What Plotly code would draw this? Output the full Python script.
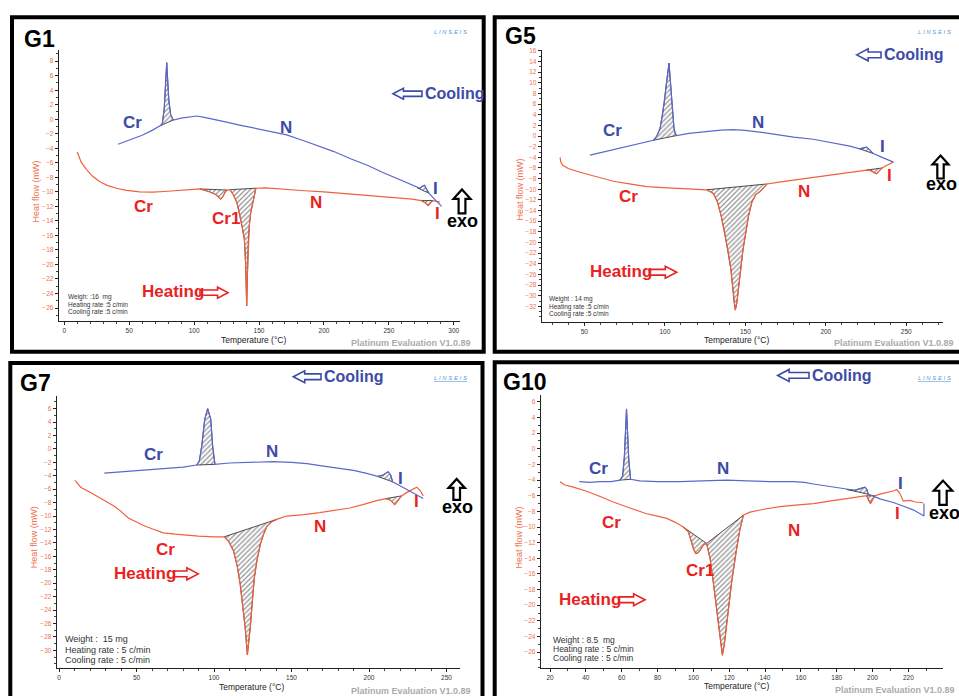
import numpy as np
import plotly.graph_objects as go

W, H = 959, 696

# ---------------- DATA (temperature in °C, heat flow in mW) ----------------
G1_HEAT_T = [10, 13, 17, 22, 27.5, 33, 40, 48, 58, 68, 77, 88, 97, 104.5, 108, 112, 116, 119, 120.5, 122, 124, 125.5,
             127.6, 130.2, 133, 135.4, 137.2, 138.7, 139.7, 140.5, 141.1, 141.8, 142.6, 143.6, 145.7, 147.6,
             155, 170, 185, 200, 215, 230, 245, 258.7, 268, 275, 278, 280.4, 282, 284, 289.5]
G1_HEAT_Q = [-4.5, -5.9, -6.9, -7.9, -8.6, -9.1, -9.5, -9.8, -10.0, -10.05, -9.95, -9.8, -9.7, -9.6, -9.75, -10.0, -10.3, -10.7, -11.0, -10.7, -10.0, -9.75,
             -9.7, -10.4, -11.5, -13.3, -15.0, -16.5, -20.0, -25.7, -21.0, -16.5, -14.5, -12.9, -11.1, -9.5,
             -9.45, -9.7, -9.85, -10.0, -10.2, -10.4, -10.6, -10.8, -11.0, -11.2, -11.5, -11.9, -11.5, -11.2, -11.4]
G1_COOL_T = [41.4, 50, 60, 68, 73.8, 75.5, 77, 78.2, 78.9, 79.6, 80.6, 82, 84, 90, 96, 102, 108, 115, 125, 135, 145, 155, 163,
             171.3, 185, 196, 207.7, 220, 233, 245, 258.6, 268, 272, 274, 276, 277.5, 279, 281, 284, 287, 290.7]
G1_COOL_Q = [-3.44, -2.9, -2.2, -1.5, -0.9, -0.6, 1.5, 5.5, 7.8, 5.5, 2.5, 0.6, -0.1, 0.15, 0.35, 0.45, 0.25, -0.05, -0.4, -0.8, -1.15, -1.55, -1.85,
             -2.15, -3.0, -3.7, -4.45, -5.4, -6.3, -7.3, -8.35, -9.1, -9.45, -9.5, -9.2, -9.1, -9.6, -10.2, -10.8, -11.3, -12.0]
G1_HEAT_PEAKS = [(104.5, 125.5), (127.6, 147.6), (275, 284)]
G1_COOL_PEAKS = [(73.8, 84), (272, 281)]
G1_XTICKS = [0, 50, 100, 150, 200, 250, 300]
G1_YTICKS = list(range(-26, 9, 2))

G5_HEAT_T = [34.9, 35.4, 36.5, 40, 47.3, 57, 68, 78, 88.8, 99, 109.4, 118, 126, 130.2, 132.7, 135, 137.5, 139.5, 141, 143, 143.8,
             144.8, 146.9, 148.5, 150, 152, 154.1, 156.5, 159.3, 163.5, 172, 182, 192.2, 205, 213, 225.4, 228, 230, 231.6, 233, 235, 238, 242]
G5_HEAT_Q = [-4.0, -4.9, -5.5, -6.1, -6.8, -7.6, -8.5, -9.0, -9.5, -9.7, -9.9, -10.0, -10.1, -10.8, -12.4, -15.0, -18.7, -22.0, -25.0, -31.2, -32.7,
             -31.2, -25.0, -21.5, -18.7, -15.0, -12.4, -11.0, -10.4, -9.0, -8.6, -8.2, -7.8, -7.3, -7.0, -6.4, -6.5, -6.9, -7.1, -6.6, -6.0, -5.5, -4.9]
G5_COOL_T = [53.5, 65, 75, 85, 92.9, 95, 97, 98.5, 99.7, 101, 102.6, 103.4, 104.3, 105, 105.7, 106.5, 107.4, 115, 125, 135, 142.6,
             150, 160, 170, 180, 192.2, 205, 215, 221, 223, 225.4, 227, 229.5, 235, 242]
G5_COOL_Q = [-3.6, -2.8, -2.1, -1.4, -0.8, 0.0, 1.4, 3.8, 6.4, 10.0, 13.7, 10.5, 6.4, 3.5, 1.4, 0.5, 0.1, 0.5, 0.85, 1.1, 1.2,
             1.05, 0.7, 0.2, -0.2, -0.6, -1.3, -1.9, -2.4, -2.3, -2.1, -2.5, -3.3, -4.0, -4.9]
G5_HEAT_PEAKS = [(126, 163.5), (225.4, 235)]
G5_COOL_PEAKS = [(92.9, 107.4), (221, 229.5)]
G5_XTICKS = [50, 100, 150, 200, 250]
G5_YTICKS = list(range(-32, 17, 2))

G7_HEAT_T = [10.3, 14, 20.3, 28, 35.4, 40, 44.7, 50, 54.4, 60, 67.3, 75, 82.4, 90, 99.6, 106.5, 109.5, 112.6, 115, 116.9, 118.5,
             120.1, 121.5, 122.5, 123.4, 124.8, 126, 127.8, 129.9, 132, 134.2, 137, 140.4, 146.7, 158, 168.2, 178, 187.6, 196,
             204.8, 211, 213.6, 216.6, 218.5, 221, 225, 230.8, 233, 235]
G7_HEAT_Q = [-4.7, -5.7, -6.5, -7.5, -8.5, -9.3, -10.3, -10.9, -11.4, -11.9, -12.5, -12.7, -12.9, -13.0, -13.1, -13.1, -13.8, -15.2, -17.5, -20.2, -23.5,
             -26.6, -30.7, -28.8, -26.6, -22.5, -19.2, -16.5, -14.2, -12.7, -11.5, -10.9, -10.5, -10.0, -9.8, -9.5, -9.1, -8.8, -8.3,
             -7.7, -7.4, -7.6, -8.3, -7.7, -7.0, -6.4, -5.7, -6.2, -7.0]
G7_COOL_T = [29.2, 40, 50, 60, 70, 80, 88.8, 90.5, 92.1, 94, 95.9, 97.9, 99.1, 100, 100.6, 110, 120, 130, 138.3, 150, 160, 168.4,
             180, 190, 198.5, 205.5, 209, 212.3, 214, 215.2, 220, 225, 230, 235]
G7_COOL_Q = [-3.6, -3.4, -3.2, -3.0, -2.85, -2.7, -2.4, -1.8, 0.46, 4.4, 6.0, 4.4, 0.46, -1.5, -2.3, -2.1, -2.0, -1.9, -1.9, -2.0, -2.2, -2.5,
             -2.9, -3.2, -3.65, -4.1, -3.9, -3.4, -3.9, -4.9, -5.5, -6.1, -6.8, -7.4]
G7_HEAT_PEAKS = [(106.5, 140.4), (211, 221)]
G7_COOL_PEAKS = [(88.8, 100.6), (205.5, 215.2)]
G7_XTICKS = [0, 50, 100, 150, 200, 250]
G7_YTICKS = list(range(-30, 7, 2))

G10_HEAT_T = [25.6, 28, 33, 40, 48, 55.3, 65, 73.9, 80, 85.1, 90, 94.4, 97.2, 99, 100.2, 101.4, 102.6, 103.7, 105.6, 107.4,
              109.3, 111.1, 113.9, 115.2, 116.2, 117.3, 118.6, 121.4, 124.2, 126, 127.9, 131.6, 140, 148.4, 157, 167, 176,
              185.6, 192, 196.7, 197.8, 198.9, 200, 201.4, 204.1, 208, 211.6, 213.4, 215, 217.2, 220.9, 224, 228.3]
G10_HEAT_Q = [-4.2, -4.6, -4.9, -5.4, -6.1, -6.8, -7.6, -8.3, -8.6, -8.9, -9.4, -10.0, -10.6, -11.9, -12.9, -13.4, -13.3, -13.0, -12.3, -12.1,
              -14.0, -17.0, -22.1, -25.0, -26.4, -25.0, -22.6, -17.0, -12.7, -10.3, -8.5, -8.1, -7.7, -7.4, -7.2, -7.0, -6.7,
              -6.4, -6.2, -6.0, -6.6, -7.0, -6.5, -6.0, -5.8, -5.6, -5.4, -5.2, -5.6, -6.7, -6.6, -6.8, -6.9]
G10_COOL_T = [36.3, 42, 48, 54, 59.0, 60.5, 61.5, 62.2, 62.7, 63.2, 64, 65, 70, 80, 92.5, 105, 118.6, 130, 143, 155.8, 162, 167,
              176, 185.6, 190, 193, 195.8, 196.8, 197.6, 204.1, 212, 222.7, 228.7, 228.7]
G10_COOL_Q = [-4.2, -4.3, -4.2, -4.2, -4.0, -3.5, -1.0, 3.0, 5.1, 2.5, -1.5, -3.9, -4.1, -4.2, -4.2, -4.1, -4.0, -4.1, -4.2, -4.2, -4.3, -4.5,
              -4.8, -5.2, -5.3, -5.1, -4.9, -5.2, -5.8, -6.4, -6.9, -7.8, -8.6, -7.0]
G10_HEAT_PEAKS = [(94.4, 107.4), (107.4, 127.9), (196.7, 201.4)]
G10_COOL_PEAKS = [(59.0, 65), (185.6, 197.6)]
G10_XTICKS = [20, 40, 60, 80, 100, 120, 140, 160, 180, 200, 220]
G10_YTICKS = list(range(-26, 7, 2))

INFO_G1 = ["Weigh: :16  mg", "Heating rate :5 c/min", "Cooling rate :5 c/min"]
INFO_G5 = ["Weight : 14 mg", "Heating rate :5 c/min", "Cooling rate :5 c/min"]
INFO_G7 = ["Weight :  15 mg", "Heating rate : 5 c/min", "Cooling rate : 5 c/min"]
INFO_G10 = ["Weight : 8.5  mg", "Heating rate : 5 c/min", "Cooling rate : 5 c/min"]

# ---------------- STYLE / LAYOUT ----------------
HEAT_C = "#f0603c"
COOL_C = "#5a68cc"
LBL_BLUE = "#3d4ba8"
LBL_RED = "#e8231f"
FONT = "Liberation Sans"


def X(px):
    return px / W


def Y(py):
    return 1 - py / H


panels = [
    dict(name="G1", ht=G1_HEAT_T, hq=G1_HEAT_Q, ct=G1_COOL_T, cq=G1_COOL_Q, hp=G1_HEAT_PEAKS, cp=G1_COOL_PEAKS,
         xt=G1_XTICKS, yt=G1_YTICKS, xr=[-4.3, 304.8], yr=[-27.8, 9.6], xd=(58.7, 460), yd=(47.7, 320), minor_x=10),
    dict(name="G5", ht=G5_HEAT_T, hq=G5_HEAT_Q, ct=G5_COOL_T, cq=G5_COOL_Q, hp=G5_HEAT_PEAKS, cp=G5_COOL_PEAKS,
         xt=G5_XTICKS, yt=G5_YTICKS, xr=[23.5, 273], yr=[-34.9, 16.25], xd=(541.7, 943.3), yd=(47.7, 320.7), minor_x=10),
    dict(name="G7", ht=G7_HEAT_T, hq=G7_HEAT_Q, ct=G7_COOL_T, cq=G7_COOL_Q, hp=G7_HEAT_PEAKS, cp=G7_COOL_PEAKS,
         xt=G7_XTICKS, yt=G7_YTICKS, xr=[-1.5, 258.7], yr=[-32.6, 7.9], xd=(56.7, 460), yd=(395, 667.7), minor_x=10),
    dict(name="G10", ht=G10_HEAT_T, hq=G10_HEAT_Q, ct=G10_COOL_T, cq=G10_COOL_Q, hp=G10_HEAT_PEAKS, cp=G10_COOL_PEAKS,
         xt=G10_XTICKS, yt=G10_YTICKS, xr=[14.8, 239.5], yr=[-28.0, 6.86], xd=(540.7, 943.3), yd=(394.3, 667.7), minor_x=10),
]

fig = go.Figure()
layout = {}


def hatch_trace(T, Q, t0, t1, xa, ya):
    T = np.asarray(T, float)
    Q = np.asarray(Q, float)
    m = (T >= t0 - 1e-9) & (T <= t1 + 1e-9)
    xs = list(T[m]) + [T[m][0]]
    ys = list(Q[m]) + [Q[m][0]]
    return go.Scatter(x=xs, y=ys, mode="lines", fill="toself", fillcolor="rgba(255,255,255,0)",
                      fillpattern=dict(shape="/", fgcolor="#1e1e1e", bgcolor="rgba(255,255,255,0)", size=3.5, solidity=0.35),
                      line=dict(color="#222", width=0.8), xaxis=xa, yaxis=ya, hoverinfo="skip", showlegend=False)


for i, p in enumerate(panels):
    suf = "" if i == 0 else str(i + 1)
    xa, ya = "x" + suf, "y" + suf
    for (t0, t1) in p["hp"]:
        fig.add_trace(hatch_trace(p["ht"], p["hq"], t0, t1, xa, ya))
    for (t0, t1) in p["cp"]:
        fig.add_trace(hatch_trace(p["ct"], p["cq"], t0, t1, xa, ya))
    fig.add_trace(go.Scatter(x=p["ht"], y=p["hq"], mode="lines", line=dict(color=HEAT_C, width=1.2),
                             xaxis=xa, yaxis=ya, showlegend=False, hoverinfo="skip"))
    fig.add_trace(go.Scatter(x=p["ct"], y=p["cq"], mode="lines", line=dict(color=COOL_C, width=1.2),
                             xaxis=xa, yaxis=ya, showlegend=False, hoverinfo="skip"))
    layout["xaxis" + suf] = dict(
        domain=[X(p["xd"][0]), X(p["xd"][1])], range=p["xr"], anchor=ya, showline=True, linecolor="#222",
        linewidth=1, ticks="outside", ticklen=3, tickcolor="#222", tickvals=p["xt"], showgrid=False, zeroline=False,
        tickfont=dict(size=6.5, color="#333", family=FONT), fixedrange=True,
        minor=dict(dtick=p["minor_x"], tick0=0, ticks="outside", ticklen=2, tickcolor="#444", showgrid=False))
    layout["yaxis" + suf] = dict(
        domain=[Y(p["yd"][1]), Y(p["yd"][0])], range=p["yr"], anchor=xa, showline=True, linecolor="#222",
        linewidth=1, ticks="outside", ticklen=3, tickcolor="#222", tickvals=p["yt"], showgrid=False, zeroline=False,
        tickfont=dict(size=6.5, color="#f07050", family=FONT), fixedrange=True,
        minor=dict(dtick=1, tick0=0, ticks="outside", ticklen=2, tickcolor="#444", showgrid=False))

annotations = []


def txt(px, py, s, size, color, bold=True, xanchor="center", angle=0, italic=False):
    if bold:
        s = "<b>" + s + "</b>"
    if italic:
        s = "<i>" + s + "</i>"
    annotations.append(dict(x=X(px), y=Y(py), xref="paper", yref="paper", text=s, showarrow=False,
                            xanchor=xanchor, yanchor="middle", textangle=angle,
                            font=dict(family=FONT, size=size, color=color)))


shapes = []


def poly(pts, color, lw):
    path = "M " + " L ".join(f"{X(a):.5f},{Y(b):.5f}" for a, b in pts) + " Z"
    shapes.append(dict(type="path", path=path, xref="paper", yref="paper",
                       line=dict(color=color, width=lw), fillcolor="white"))


def larrow(x0, x1, yc, h, color, lw=1.6):
    hl, sh = h * 0.95, h * 0.24
    poly([(x0, yc), (x0 + hl, yc - h / 2), (x0 + hl, yc - sh), (x1, yc - sh), (x1, yc + sh),
          (x0 + hl, yc + sh), (x0 + hl, yc + h / 2)], color, lw)


def rarrow(x0, x1, yc, h, color, lw=1.6):
    hl, sh = h * 0.95, h * 0.24
    poly([(x1, yc), (x1 - hl, yc - h / 2), (x1 - hl, yc - sh), (x0, yc - sh), (x0, yc + sh),
          (x1 - hl, yc + sh), (x1 - hl, yc + h / 2)], color, lw)


def uarrow(xc, y0, y1, w, color="black", lw=2.2):
    hl, sh = w * 0.55, w * 0.2
    poly([(xc, y0), (xc + w / 2, y0 + hl), (xc + sh, y0 + hl), (xc + sh, y1), (xc - sh, y1),
          (xc - sh, y0 + hl), (xc - w / 2, y0 + hl)], color, lw)


# panel frames
for (x0, y0, x1, y1) in [(12, 15.3, 483.7, 350.7), (494.7, 15.3, 962, 350.7),
                         (10.3, 362, 482.5, 699), (494.7, 361.3, 962, 699)]:
    shapes.append(dict(type="rect", xref="paper", yref="paper", x0=X(x0), x1=X(x1), y0=Y(y1), y1=Y(y0),
                       line=dict(color="black", width=4), fillcolor="rgba(0,0,0,0)"))

LOGO = "L I N S E I S"
PLAT = "Platinum Evaluation V1.0.89"

# ---- G1 ----
txt(22, 37, "G1", 23, "black", xanchor="left")
txt(450, 30, LOGO, 6, "#5b9bd5", bold=False, italic=True)
larrow(393, 422, 92, 11, LBL_BLUE)
txt(423, 92, "Cooling", 16, LBL_BLUE, xanchor="left")
txt(132.8, 121.3, "Cr", 17, LBL_BLUE)
txt(285.8, 126.3, "N", 17, LBL_BLUE)
txt(435.3, 187.5, "I", 17, LBL_BLUE)
txt(143.8, 205, "Cr", 17, LBL_RED)
txt(226.3, 216.7, "Cr1", 17, LBL_RED)
txt(315.5, 201.2, "N", 17, LBL_RED)
txt(437, 212.5, "I", 17, LBL_RED)
txt(172.5, 290, "Heating", 17, LBL_RED)
rarrow(200, 228, 291.5, 11, LBL_RED)
uarrow(462, 188, 212, 17)
txt(462.7, 219.7, "exo", 18, "black")
for k, line in enumerate(INFO_G1):
    txt(66, 296 + k * 7.6, line, 6.5, "#333", bold=False, xanchor="left")
txt(36, 190, "Heat flow (mW)", 9, "#f07050", bold=False, angle=-90)
txt(253, 339, "Temperature (°C)", 8.5, "#222", bold=False)
txt(473, 342, PLAT, 9, "#aaaaaa", xanchor="right")

# ---- G5 ----
txt(503.3, 34, "G5", 23, "black", xanchor="left")
txt(934, 30, LOGO, 6, "#5b9bd5", bold=False, italic=True)
larrow(856.7, 881, 53, 12, LBL_BLUE)
txt(881.7, 53, "Cooling", 16, LBL_BLUE, xanchor="left")
txt(612.8, 129, "Cr", 17, LBL_BLUE)
txt(758, 120.5, "N", 17, LBL_BLUE)
txt(882.7, 145, "I", 17, LBL_BLUE)
txt(628.7, 195.5, "Cr", 17, LBL_RED)
txt(804.2, 189.7, "N", 17, LBL_RED)
txt(889.3, 174, "I", 17, LBL_RED)
txt(621.3, 270.7, "Heating", 17, LBL_RED)
rarrow(649.3, 676.7, 271, 12, LBL_RED)
uarrow(940.5, 154, 177, 16)
txt(941.7, 183, "exo", 18, "black")
for k, line in enumerate(INFO_G5):
    txt(546.7, 298.3 + k * 7.1, line, 6.5, "#333", bold=False, xanchor="left")
txt(520, 188, "Heat flow (mW)", 9, "#f07050", bold=False, angle=-90)
txt(736, 339, "Temperature (°C)", 8.5, "#222", bold=False)
txt(956, 342, PLAT, 9, "#aaaaaa", xanchor="right")

# ---- G7 ----
txt(18.3, 382.5, "G7", 23, "black", xanchor="left")
txt(450.5, 377, "<u>" + LOGO + "</u>", 6, "#5b9bd5", bold=False, italic=True)
larrow(293.3, 321, 375.8, 12, LBL_BLUE)
txt(321.7, 375.8, "Cooling", 16, LBL_BLUE, xanchor="left")
txt(153, 453.5, "Cr", 17, LBL_BLUE)
txt(271.7, 451.2, "N", 17, LBL_BLUE)
txt(400.7, 478, "I", 17, LBL_BLUE)
txt(165.8, 549, "Cr", 17, LBL_RED)
txt(320, 526.5, "N", 17, LBL_RED)
txt(416.7, 501.3, "I", 17, LBL_RED)
txt(145, 572.8, "Heating", 17, LBL_RED)
rarrow(174, 198.3, 573.5, 12, LBL_RED)
uarrow(456.7, 478.3, 499.3, 16.5)
txt(457.8, 506.7, "exo", 18, "black")
for k, line in enumerate(INFO_G7):
    txt(63.3, 639.3 + k * 10.5, line, 9, "#333", bold=False, xanchor="left")
txt(34.3, 536.6, "Heat flow (mW)", 9, "#f07050", bold=False, angle=-90)
txt(251.7, 686.7, "Temperature (°C)", 8.5, "#222", bold=False)
txt(473.3, 690.7, PLAT, 9, "#aaaaaa", xanchor="right")

# ---- G10 ----
txt(500.7, 381.3, "G10", 23, "black", xanchor="left")
txt(934, 377, "<u>" + LOGO + "</u>", 6, "#5b9bd5", bold=False, italic=True)
larrow(777.7, 809, 374.5, 12, LBL_BLUE)
txt(810, 374.5, "Cooling", 16, LBL_BLUE, xanchor="left")
txt(598, 468.3, "Cr", 17, LBL_BLUE)
txt(723, 468.3, "N", 17, LBL_BLUE)
txt(900.7, 483.3, "I", 17, LBL_BLUE)
txt(611.3, 522, "Cr", 17, LBL_RED)
txt(700, 570, "Cr1", 17, LBL_RED)
txt(794, 530.3, "N", 17, LBL_RED)
txt(897.3, 513.3, "I", 17, LBL_RED)
txt(590, 599.3, "Heating", 17, LBL_RED)
rarrow(619, 645, 599.5, 12, LBL_RED)
uarrow(943, 480, 504.3, 18.5)
txt(944, 512.2, "exo", 18, "black")
for k, line in enumerate(INFO_G10):
    txt(550.7, 640 + k * 8.7, line, 8.5, "#333", bold=False, xanchor="left")
txt(519.3, 536.7, "Heat flow (mW)", 9, "#f07050", bold=False, angle=-90)
txt(736, 686, "Temperature (°C)", 8.5, "#222", bold=False)
txt(956.7, 690, PLAT, 9, "#aaaaaa", xanchor="right")

fig.update_layout(width=W, height=H, autosize=False, margin=dict(l=0, r=0, t=0, b=0),
                  paper_bgcolor="white", plot_bgcolor="rgba(0,0,0,0)", showlegend=False,
                  annotations=annotations, shapes=shapes, font=dict(family=FONT), **layout)

fig.write_html("out.html", config={"displayModeBar": False},
               post_script="document.body.style.margin='0';document.body.style.overflow='hidden';")
